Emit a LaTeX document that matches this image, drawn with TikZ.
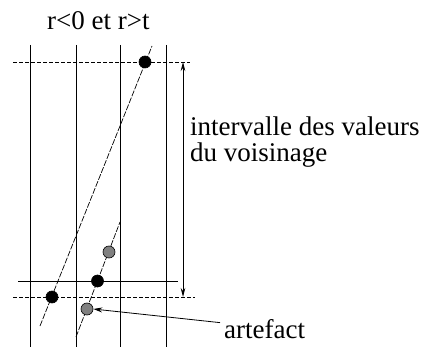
\documentclass[tikz,border=0pt]{standalone}
\usepackage{fontspec}
\setmainfont{Liberation Serif}
\usetikzlibrary{arrows.meta, positioning}

\begin{document}
\begin{tikzpicture}[x=1pt, y=-1pt,
        grille/.style={line width=1pt},
        niveau/.style={line width=0.7pt, dash pattern=on 4pt off 2pt},
        pente/.style={line width=0.7pt, dash pattern=on 6pt off 1.5pt},
        point/.style={circle, draw, line width=0.6pt, fill=black, inner sep=0pt, minimum size=12pt},
        faux/.style={point, fill=gray},
        texte/.style={font=\fontsize{27}{26}\selectfont, inner sep=0pt}]
        \useasboundingbox (0,0) rectangle (422,347);
        % colonnes
        \foreach \x in {30,76,120,166}
            \draw[grille] (\x,45) -- (\x,347);
        % niveaux
        \draw[niveau] (13,62) -- (190,62);
        \draw[niveau] (13,297) -- (195,297);
        \draw[line width=1pt] (18,281) -- (178,281);
        % lignes de pente
        \coordinate (P1b) at (40,326);
        \coordinate (P1h) at (152,46);
        \coordinate (P2b) at (76,337);
        \coordinate (P2h) at (120,222);
        \draw[pente] (P1b) -- (P1h);
        \draw[pente] (P2b) -- (P2h);
        % points
        \node[point] (haut) at (145,62) {};
        \node[point] (bas) at (52,297) {};
        \node[point] (centre) at (97.5,281) {};
        \node[faux] (fauxH) at (109,252) {};
        \node[faux] (fauxB) at (87,309) {};
        % intervalle
        \coordinate (Ih) at (183,62);
        \coordinate (Ib) at (183,297);
        \draw[{Stealth[length=9pt,width=4.5pt]}-{Stealth[length=9pt,width=4.5pt]}, line width=0.8pt] (Ih) -- (Ib);
        % textes
        \node[texte, anchor=base west] (titre) at (47,30) {r<0 et r>t};
        \node[texte, anchor=base west, align=left] (inter) at (190,162) {intervalle des valeurs\\du voisinage};
        \node[texte, anchor=base west] (artefact) at (224,338) {artefact};
        \draw[-{Stealth[length=9pt,width=5pt]}, line width=0.8pt] (artefact.west) ++(-4,-6) coordinate (A0) (A0) -- (fauxB.east);
    \end{tikzpicture}
\end{document}
